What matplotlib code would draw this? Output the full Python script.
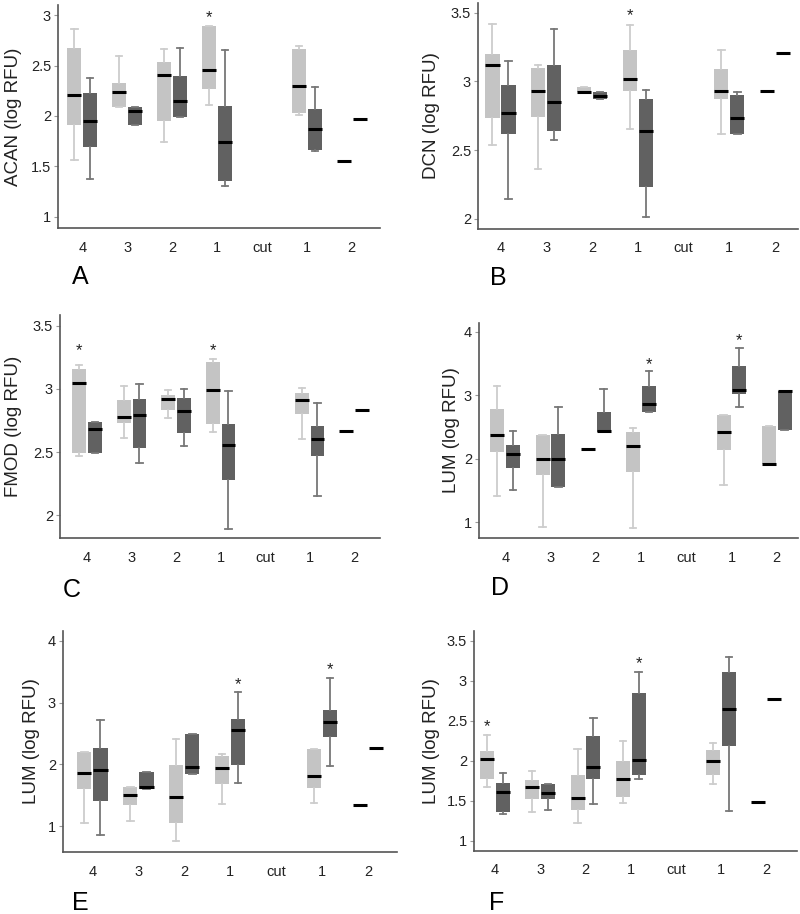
import matplotlib
matplotlib.use("Agg")
import matplotlib.pyplot as plt

plt.rcParams['font.family'] = ['Liberation Sans', 'DejaVu Sans']

categories = ['4', '3', '2', '1', 'cut', '1', '2']

# Each entry: [whislo, q1, median, q3, whishi]; None = no box (the 'cut' slot)
A_light = [[1.56, 1.91, 2.21, 2.67, 2.86], [2.09, 2.09, 2.24, 2.33, 2.59], [1.74, 1.95, 2.41, 2.54, 2.66],
           [2.11, 2.27, 2.46, 2.89, 2.89], None, [2.005, 2.03, 2.30, 2.66, 2.69], [1.55, 1.55, 1.55, 1.55, 1.55]]
A_dark = [[1.38, 1.69, 1.95, 2.23, 2.375], [1.91, 1.91, 2.05, 2.09, 2.09], [1.99, 1.99, 2.15, 2.40, 2.67],
          [1.31, 1.36, 1.74, 2.10, 2.65], None, [1.65, 1.66, 1.87, 2.07, 2.29], [1.97, 1.97, 1.97, 1.97, 1.97]]

B_light = [[2.54, 2.73, 3.12, 3.20, 3.42], [2.36, 2.74, 2.93, 3.10, 3.12], [2.92, 2.92, 2.925, 2.96, 2.96],
           [2.65, 2.93, 3.02, 3.23, 3.41], None, [2.62, 2.87, 2.93, 3.09, 3.23], [2.93, 2.93, 2.93, 2.93, 2.93]]
B_dark = [[2.14, 2.62, 2.77, 2.97, 3.15], [2.57, 2.64, 2.85, 3.12, 3.38], [2.87, 2.87, 2.89, 2.92, 2.92],
          [2.01, 2.23, 2.64, 2.87, 2.94], None, [2.62, 2.62, 2.73, 2.90, 2.92], [3.205, 3.205, 3.205, 3.205, 3.205]]

C_light = [[2.47, 2.49, 3.05, 3.16, 3.19], [2.61, 2.73, 2.78, 2.915, 3.02], [2.77, 2.83, 2.92, 2.95, 2.995],
           [2.66, 2.72, 2.99, 3.21, 3.24], None, [2.60, 2.80, 2.91, 2.97, 3.01], [2.665, 2.665, 2.665, 2.665, 2.665]]
C_dark = [[2.49, 2.49, 2.685, 2.74, 2.74], [2.41, 2.53, 2.79, 2.92, 3.04], [2.55, 2.65, 2.825, 2.93, 3.0],
          [1.89, 2.28, 2.555, 2.72, 2.98], None, [2.15, 2.47, 2.60, 2.71, 2.89], [2.835, 2.835, 2.835, 2.835, 2.835]]

D_light = [[1.42, 2.10, 2.37, 2.79, 3.15], [0.92, 1.745, 1.99, 2.37, 2.37], [2.15, 2.15, 2.15, 2.15, 2.15],
           [0.90, 1.79, 2.20, 2.42, 2.48], None, [1.59, 2.13, 2.42, 2.69, 2.69], [1.91, 1.91, 1.91, 2.52, 2.52]]
D_dark = [[1.51, 1.85, 2.07, 2.21, 2.43], [1.55, 1.55, 1.99, 2.385, 2.82], [2.42, 2.42, 2.43, 2.74, 3.10],
          [2.74, 2.74, 2.86, 3.14, 3.38], None, [2.81, 3.02, 3.08, 3.46, 3.74], [2.45, 2.45, 3.06, 3.07, 3.07]]

E_light = [[1.06, 1.60, 1.87, 2.21, 2.21], [1.085, 1.345, 1.51, 1.64, 1.64], [0.76, 1.06, 1.47, 1.99, 2.41],
           [1.355, 1.68, 1.95, 2.13, 2.165], None, [1.38, 1.62, 1.82, 2.25, 2.25], [1.35, 1.35, 1.35, 1.35, 1.35]]
E_dark = [[0.86, 1.415, 1.91, 2.27, 2.72], [1.60, 1.60, 1.64, 1.88, 1.88], [1.84, 1.84, 1.96, 2.49, 2.49],
          [1.70, 1.99, 2.56, 2.74, 3.17], None, [1.97, 2.445, 2.68, 2.88, 3.40], [2.27, 2.27, 2.27, 2.27, 2.27]]

F_light = [[1.67, 1.78, 2.03, 2.13, 2.33], [1.365, 1.52, 1.675, 1.76, 1.87], [1.23, 1.39, 1.54, 1.83, 2.15],
           [1.47, 1.55, 1.77, 2.00, 2.25], None, [1.715, 1.82, 2.005, 2.14, 2.22], [1.49, 1.49, 1.49, 1.49, 1.49]]
F_dark = [[1.34, 1.36, 1.61, 1.73, 1.85], [1.39, 1.52, 1.60, 1.71, 1.71], [1.46, 1.78, 1.93, 2.31, 2.54],
          [1.78, 1.82, 2.01, 2.85, 3.11], None, [1.38, 2.185, 2.655, 3.11, 3.30], [2.77, 2.77, 2.77, 2.77, 2.77]]

ylabels = ['ACAN (log RFU)', 'DCN (log RFU)', 'FMOD (log RFU)', 'LUM (log RFU)', 'LUM (log RFU)', 'LUM (log RFU)']
panel_letters = ['A', 'B', 'C', 'D', 'E', 'F']
yticks = [[1, 1.5, 2, 2.5, 3], [2, 2.5, 3, 3.5], [2, 2.5, 3, 3.5], [1, 2, 3, 4], [1, 2, 3, 4],
          [1, 1.5, 2, 2.5, 3, 3.5]]
# significance stars: (category index, 'light'/'dark', y)
stars = [[(3, 'light', 2.97)], [(3, 'light', 3.48)], [(0, 'light', 3.30), (3, 'light', 3.30)],
         [(3, 'dark', 3.49), (5, 'dark', 3.86)], [(3, 'dark', 3.30), (5, 'dark', 3.53)], [(0, 'light', 2.43), (3, 'dark', 3.22)]]

lights = [A_light, B_light, C_light, D_light, E_light, F_light]
darks = [A_dark, B_dark, C_dark, D_dark, E_dark, F_dark]

# layout (pixels: left, right, top, bottom), axis limits
W, H = 800, 914
rects = [(58, 380, 5, 228), (478, 798, 3, 229), (60, 380, 315, 538), (479, 798, 323, 538),
         (63, 397, 631, 852), (474, 797, 631, 851)]
xlims = [(0.46, 7.63), (0.51, 7.5), (0.39, 7.58), (0.42, 7.47), (0.36, 7.63), (0.535, 7.68)]
ylims = [(0.89, 3.1), (1.925, 3.57), (1.82, 3.585), (0.75, 4.14), (0.584, 4.16), (0.875, 3.625)]
letter_pos = [(80, 277), (498, 278), (72, 590), (500, 588), (80, 903), (497, 903)]
ylabel_x = [14, 431, 14, 451, 32, 431]

LIGHT = '#c4c4c4'
DARK = '#616161'
LIGHT_W = '#cdcdcd'
DARK_W = '#777777'
OFF = 0.175
BW = 0.31

fig = plt.figure(figsize=(W / 100, H / 100), dpi=100)


def stats_list(data, positions_base, offset):
    out, pos = [], []
    for i, s in enumerate(data):
        if s is None:
            continue
        out.append(dict(whislo=s[0], q1=s[1], med=s[2], q3=s[3], whishi=s[4], fliers=[]))
        pos.append(positions_base[i] + offset)
    return out, pos


base = list(range(1, len(categories) + 1))

for k in range(6):
    l, r, t, b = rects[k]
    ax = fig.add_axes([l / W, 1 - b / H, (r - l) / W, (b - t) / H])
    for data, off, fc, wc in [(lights[k], -OFF, LIGHT, LIGHT_W), (darks[k], OFF, DARK, DARK_W)]:
        st, pos = stats_list(data, base, off)
        ax.bxp(st, positions=pos, widths=BW, patch_artist=True, showfliers=False,
               capwidths=0.14,
               boxprops=dict(facecolor=fc, edgecolor='none', linewidth=0),
               medianprops=dict(color='black', linewidth=2.2, solid_capstyle='butt'),
               whiskerprops=dict(color=wc, linewidth=1.3),
               capprops=dict(color=wc, linewidth=1.3))
    for (ci, which, yv) in stars[k]:
        xx = base[ci] + (-OFF if which == 'light' else OFF)
        ax.text(xx, yv, '*', ha='center', va='center', fontsize=12, color='#222222')
    ax.set_xlim(*xlims[k])
    ax.set_ylim(*ylims[k])
    ax.set_xticks(base)
    ax.set_xticklabels(categories)
    ax.set_yticks(yticks[k])
    ax.set_yticklabels([('%g' % v) for v in yticks[k]])
    for sp in ['top', 'right']:
        ax.spines[sp].set_visible(False)
    for sp in ['left', 'bottom']:
        ax.spines[sp].set_color('#555555')
        ax.spines[sp].set_linewidth(1.2)
    ax.tick_params(axis='x', length=0, pad=9, labelsize=10.5, labelcolor='#222222')
    ax.tick_params(axis='y', length=3, width=0.8, color='#999999', pad=2, labelsize=10.5, labelcolor='#222222')
    ax.set_ylabel(ylabels[k], fontsize=13.5, color='#222222', va='center')
    ax.yaxis.set_label_coords((ylabel_x[k] - l) / (r - l), 0.5)
    fig.text(letter_pos[k][0] / W, 1 - letter_pos[k][1] / H, panel_letters[k], ha='center', va='center',
             fontsize=18, color='black')

fig.savefig('out.png', dpi=100, facecolor='white')
